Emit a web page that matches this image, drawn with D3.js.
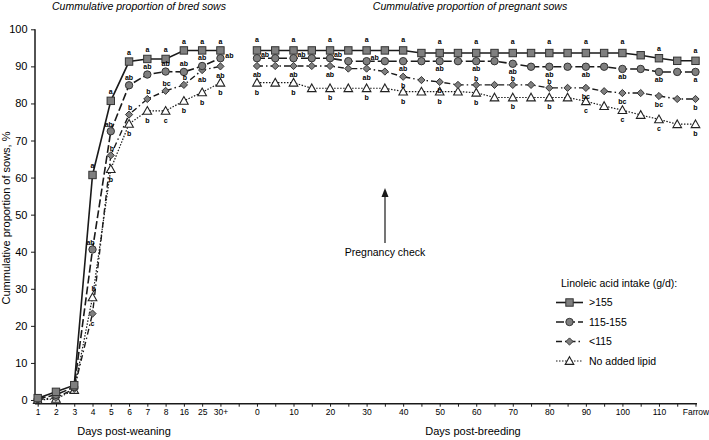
<!DOCTYPE html>
<html>
<head>
<meta charset="utf-8">
<script src="https://cdnjs.cloudflare.com/ajax/libs/d3/7.8.5/d3.min.js"></script>
<style>
  html, body { margin: 0; padding: 0; background: #fff; }
  svg { display: block; font-family: "Liberation Sans", Arial, Helvetica, sans-serif; }
</style>
</head>
<body>
<svg id="chart" width="709" height="440"></svg>
<script>
// ---------- DATA ----------
const leftCats = ["1","2","3","4","5","6","7","8","16","25","30+"];
const rightCats = ["0","5","10","15","20","25","30","35","40","45","50","55","60","65","70","75","80","85","90","95","100","105","110","115","Farrow"];
const rightTickLabels = ["0","10","20","30","40","50","60","70","80","90","100","110","Farrow"];
const yTicks = [0,10,20,30,40,50,60,70,80,90,100];

const seriesNames = [">155", "115-155", "<115", "No added lipid"];

// bred sows (days post-weaning)
const sqLeft = [0.5, 2.2, 4.0, 60.7, 80.7, 91.3, 92.0, 92.0, 94.3, 94.3, 94.3];
const ciLeft = [0.3, 1.4, 3.5, 40.6, 72.5, 84.9, 87.8, 88.6, 88.5, 90.1, 92.2];
const diLeft = [0.1, 0.6, 3.0, 23.3, 66.0, 77.0, 81.2, 83.4, 85.0, 89.0, 90.0];
const trLeft = [0.0, 0.3, 2.7, 27.7, 62.3, 74.5, 78.0, 78.0, 80.7, 83.0, 85.6];

// pregnant sows (days post-breeding)
const sqRight = [94.3,94.3,94.3,94.3,94.3,94.3,94.3,94.3,94.3,93.6,93.6,93.6,93.6,93.6,93.6,93.6,93.6,93.6,93.6,93.6,93.6,93.0,92.2,91.5,91.5];
const ciRight = [92.2,92.2,92.2,92.2,92.2,91.4,91.4,91.4,91.4,91.4,91.4,91.4,91.4,91.4,90.7,89.9,89.9,89.9,89.9,89.9,89.3,89.3,88.5,88.5,88.5];
const diRight = [90.1,90.1,90.1,90.1,90.1,89.4,89.4,88.6,87.2,86.3,85.8,85.0,85.0,85.0,85.0,85.0,84.2,84.2,84.2,83.3,82.8,82.8,82.0,81.2,81.2];
const trRight = [85.6,85.6,85.6,84.1,84.1,84.1,84.1,84.1,83.2,83.2,83.2,83.2,82.9,81.6,81.6,81.6,81.6,81.6,80.6,79.3,78.2,76.9,75.7,74.4,74.4];

// significance letters (null = none)
const sqLeftLetters = [null,null,null,"a","a","a","a","a","a","a","a"];
const ciLeftLetters = [null,null,null,"ab","ab","ab","ab","ab","ab","ab","ab"];
const diLeftLetters = [null,null,null,"c","b","b","b","bc","b","ab","ab"];
const trLeftLetters = [null,null,null,"b","b","b","b","c","b","b","b"];

const sqRightLetters = ["a",null,"a",null,"a",null,"a",null,"a",null,"a",null,"a",null,"a",null,"a",null,"a",null,"a",null,"a",null,"a"];
const ciRightLetters = ["ab",null,"ab",null,"ab",null,"ab",null,"ab",null,"ab",null,"ab",null,"ab",null,"ab",null,"ab",null,"ab",null,"ab",null,"a"];
const diRightLetters = ["ab",null,"ab",null,"ab",null,"ab",null,"b",null,"b",null,"b",null,"b",null,"b",null,"bc",null,"bc",null,"bc",null,"b"];
const trRightLetters = ["b",null,"b",null,"b",null,"b",null,"b",null,"b",null,"b",null,"b",null,"b",null,"c",null,"c",null,"c",null,"b"];

// ---------- CHART ----------
const svg = d3.select("#chart");
const kL = c => "L|" + c, kR = c => "R|" + c;
const allKeys = leftCats.map(kL).concat(["gap|"], rightCats.map(kR));

const x = d3.scalePoint().domain(allKeys).range([37.7, 695.5]);
const y = d3.scaleLinear().domain([-1, 100]).range([403.7, 29.3]);
const axisLeftX = 35;

const ink = "#1a1a1a";
const gray = "#7f7f7f";
const font = "Liberation Sans, Arial, sans-serif";

// axes
const shownKeys = new Set(leftCats.map(kL).concat(rightTickLabels.map(kR)));
const gx = svg.append("g").attr("transform", `translate(0,${y(-1)})`)
  .call(d3.axisBottom(x).tickSize(3).tickPadding(2)
    .tickFormat(d => shownKeys.has(d) ? d.split("|")[1] : ""));
gx.select(".domain").remove();
gx.selectAll(".tick line").attr("stroke", ink);
gx.selectAll("text").attr("font-size", 8.5).attr("fill", "#000").attr("font-family", font);
svg.append("line").attr("x1", axisLeftX).attr("x2", 697).attr("y1", y(-1)).attr("y2", y(-1))
  .attr("stroke", ink).attr("stroke-width", 1.5);

const gy = svg.append("g").attr("transform", `translate(${axisLeftX},0)`)
  .call(d3.axisLeft(y).tickValues(yTicks).tickSize(4).tickPadding(3.5));
gy.select(".domain").remove();
gy.selectAll(".tick line").attr("stroke", ink);
gy.selectAll("text").attr("font-size", 11).attr("fill", "#000").attr("font-family", font);
svg.append("line").attr("x1", axisLeftX).attr("x2", axisLeftX).attr("y1", y(100)).attr("y2", y(-1))
  .attr("stroke", ink).attr("stroke-width", 1.5);

// series definitions
const series = [
  { name: seriesNames[0], left: sqLeft, right: sqRight, lL: sqLeftLetters, lR: sqRightLetters, shape: "square", dash: null, width: 1.6 },
  { name: seriesNames[1], left: ciLeft, right: ciRight, lL: ciLeftLetters, lR: ciRightLetters, shape: "circle", dash: "8,3", width: 1.6 },
  { name: seriesNames[2], left: diLeft, right: diRight, lL: diLeftLetters, lR: diRightLetters, shape: "diamond", dash: "6,3,1.5,3", width: 1.4 },
  { name: seriesNames[3], left: trLeft, right: trRight, lL: trLeftLetters, lR: trRightLetters, shape: "triangle", dash: "1.5,1.5", width: 1.2 }
];

const line = d3.line().x(d => x(d.k)).y(d => y(d.v));

function drawMarker(g, shape, cx, cy) {
  if (shape === "square") {
    g.append("rect").attr("x", cx - 3.7).attr("y", cy - 3.7).attr("width", 7.4).attr("height", 7.4)
      .attr("fill", gray).attr("stroke", "#333").attr("stroke-width", 1);
  } else if (shape === "circle") {
    g.append("circle").attr("cx", cx).attr("cy", cy).attr("r", 3.7)
      .attr("fill", gray).attr("stroke", "#333").attr("stroke-width", 1);
  } else if (shape === "diamond") {
    g.append("path").attr("d", `M${cx},${cy-3.6}L${cx+3.6},${cy}L${cx},${cy+3.6}L${cx-3.6},${cy}Z`)
      .attr("fill", gray).attr("stroke", "#333").attr("stroke-width", 1);
  } else {
    g.append("path").attr("d", `M${cx},${cy-4.3}L${cx+4.3},${cy+3.4}L${cx-4.3},${cy+3.4}Z`)
      .attr("fill", "#fff").attr("stroke", "#222").attr("stroke-width", 1.1);
  }
}

series.forEach(s => {
  const segL = leftCats.map((c, i) => ({ k: kL(c), v: s.left[i] }));
  const segR = rightCats.map((c, i) => ({ k: kR(c), v: s.right[i] }));
  [segL, segR].forEach(seg => {
    svg.append("path").datum(seg).attr("d", line).attr("fill", "none")
      .attr("stroke", ink).attr("stroke-width", s.width)
      .attr("stroke-dasharray", s.dash);
  });
});
series.slice().reverse().forEach(s => {
  const g = svg.append("g");
  leftCats.forEach((c, i) => drawMarker(g, s.shape, x(kL(c)), y(s.left[i])));
  rightCats.forEach((c, i) => drawMarker(g, s.shape, x(kR(c)), y(s.right[i])));
});

// letters: placement rules (style)
function placeLeft(si, i) {
  if (si === 0) return [0, -9];
  if (si === 1) { if (i === 10) return [9, -3]; if (i <= 4) return [-2, -7]; return [0, -8]; }
  if (si === 2) { if (i === 3 || i >= 9) return [0, 9.5]; return [1, -7]; }
  return i === 3 ? [1, -9] : [0, 10];
}
function placeRight(si, i) {
  if (si === 0) return [0, i >= 22 ? -10 : -11];
  if (si === 1) { if (i <= 6) return [8, -4]; return [0, 7.5]; }
  if (si === 2) { if (i >= 12 && i <= 16) return [0, -6.5]; return [0, 8.5]; }
  return [0, 9.5];
}
const lg = svg.append("g").attr("font-size", 7).attr("font-weight", "bold").attr("text-anchor", "middle")
  .attr("fill", "#000").attr("font-family", font);
series.forEach((s, si) => {
  leftCats.forEach((c, i) => {
    const t = s.lL[i]; if (!t) return;
    const [dx, dy] = placeLeft(si, i);
    lg.append("text").attr("x", x(kL(c)) + dx).attr("y", y(s.left[i]) + dy).attr("dy", "0.35em").attr("fill", "#000").text(t);
  });
  rightCats.forEach((c, i) => {
    const t = s.lR[i]; if (!t) return;
    const [dx, dy] = placeRight(si, i);
    lg.append("text").attr("x", x(kR(c)) + dx).attr("y", y(s.right[i]) + dy).attr("dy", "0.35em").attr("fill", "#000").text(t);
  });
});

// titles
svg.append("text").attr("x", 139).attr("y", 10).attr("text-anchor", "middle")
  .attr("font-size", 10.5).attr("font-style", "italic").text("Cummulative proportion of bred sows");
svg.append("text").attr("x", 470).attr("y", 10).attr("text-anchor", "middle")
  .attr("font-size", 10.5).attr("font-style", "italic").text("Cummulative proportion of pregnant sows");
svg.append("text").attr("transform", "translate(10,218) rotate(-90)").attr("text-anchor", "middle")
  .attr("font-size", 11).text("Cummulative proportion of sows, %");
svg.append("text").attr("x", 124).attr("y", 435).attr("text-anchor", "middle")
  .attr("font-size", 11).text("Days post-weaning");
svg.append("text").attr("x", 473).attr("y", 435).attr("text-anchor", "middle")
  .attr("font-size", 11).text("Days post-breeding");

// pregnancy check arrow
const ax = 385;
svg.append("line").attr("x1", ax).attr("x2", ax).attr("y1", 243).attr("y2", 194).attr("stroke", ink).attr("stroke-width", 1.2);
svg.append("path").attr("d", `M${ax},188L${ax+3.5},197L${ax-3.5},197Z`).attr("fill", ink);
svg.append("text").attr("x", ax).attr("y", 256).attr("text-anchor", "middle").attr("font-size", 10.5).text("Pregnancy check");

// legend
const legX = 561, legY = 283;
svg.append("text").attr("x", legX).attr("y", legY + 4).attr("font-size", 10.5).text("Linoleic acid intake (g/d):");
series.forEach((s, i) => {
  const yy = legY + 19.5 * (i + 1);
  const g = svg.append("g");
  g.append("line").attr("x1", 556).attr("x2", 583).attr("y1", yy).attr("y2", yy)
    .attr("stroke", ink).attr("stroke-width", s.width).attr("stroke-dasharray", s.dash);
  drawMarker(g, s.shape, 569.5, yy);
  g.append("text").attr("x", 589).attr("y", yy).attr("dy", "0.35em").attr("font-size", 10.5).text(s.name);
});
</script>
</body>
</html>
